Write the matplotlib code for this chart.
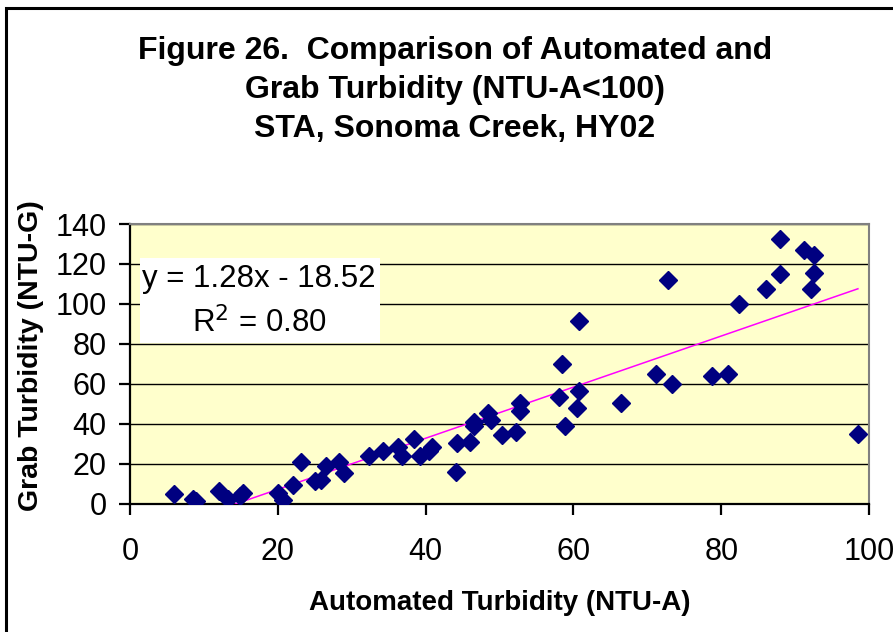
import numpy as np
import matplotlib.pyplot as plt
from matplotlib.patches import Rectangle

# ------------------------------------------------------------------
# Data (NTU-A vs NTU-G)
# ------------------------------------------------------------------
ntu_a = [6.0, 8.5, 8.9, 12.0, 13.2, 14.9, 15.3, 20.0, 20.7, 22.0,
         23.2, 25.0, 25.9, 26.5, 28.3, 28.9, 32.3, 34.3, 36.3, 36.8,
         38.4, 39.2, 40.5, 40.8, 44.1, 44.3, 46.0, 46.5, 46.6, 48.4,
         48.9, 50.4, 52.2, 52.8, 52.8, 58.1, 58.4, 58.9, 60.5, 60.8,
         60.8, 66.5, 71.2, 72.8, 73.3, 78.8, 80.9, 82.4, 86.1, 88.0,
         88.0, 91.2, 92.6, 92.6, 92.1, 98.5]
ntu_g = [5.0, 2.5, 1.3, 6.3, 2.2, 3.7, 5.5, 5.5, 1.7, 9.5,
         20.9, 11.3, 12.0, 18.8, 20.9, 15.5, 23.7, 26.4, 28.4, 23.7,
         32.1, 23.7, 26.4, 28.1, 15.8, 30.1, 30.9, 40.9, 38.7, 45.1,
         41.8, 34.2, 35.9, 50.1, 46.5, 53.4, 69.8, 38.9, 47.6, 56.4,
         91.4, 50.1, 64.8, 111.9, 60.1, 63.8, 65.0, 100.1, 107.4, 132.3,
         114.8, 127.0, 124.5, 115.6, 107.4, 34.7]

# Trendline as printed on the chart
slope = 1.28
intercept = -18.52
r_squared = 0.80

x_ticks = [0, 20, 40, 60, 80, 100]
y_ticks = [0, 20, 40, 60, 80, 100, 120, 140]

W, H = 893, 632
FONT = 'Liberation Sans'

fig = plt.figure(figsize=(W / 100, H / 100), dpi=100)
ax = fig.add_axes([130 / W, 1 - 503.5 / H, 739 / W, 279.5 / H])

ax.set_facecolor('#FFFFCC')
ax.set_xlim(0, 100)
ax.set_ylim(0, 140)
ax.set_xticks(x_ticks)
ax.set_yticks(y_ticks)
ax.grid(axis='y', color='black', linewidth=1.0)
ax.set_axisbelow(True)

# scatter points
ax.plot(ntu_a, ntu_g, linestyle='none', marker='D', markersize=9,
        color='#000080', markeredgecolor='#000080', zorder=4)

# linear trendline
xs = np.array([min(ntu_a), max(ntu_a)])
ax.plot(xs, slope * xs + intercept, color='#FF00FF', linewidth=1.1, zorder=3)

# spines
for side in ('top', 'right'):
    ax.spines[side].set_color('#808080')
    ax.spines[side].set_linewidth(1.5)
for side in ('left', 'bottom'):
    ax.spines[side].set_color('black')
    ax.spines[side].set_linewidth(1.6)

ax.tick_params(axis='both', direction='out', length=8, width=1.6,
               colors='black', labelsize=22)
ax.tick_params(axis='y', pad=9)
ax.tick_params(axis='x', pad=16)
for lbl in ax.get_xticklabels() + ax.get_yticklabels():
    lbl.set_fontfamily(FONT)

# equation box
fig.add_artist(Rectangle((140 / W, 1 - 343 / H), 240 / W, 85 / H,
                         transform=fig.transFigure, facecolor='white',
                         edgecolor='none', zorder=5))
fig.text(259 / W, 1 - 279 / H, f"y = {slope:.2f}x - {abs(intercept):.2f}",
         ha='center', va='center', fontsize=22.5, family=FONT, zorder=6)
fig.text(259 / W, 1 - 323 / H, f"R$^2$ = {r_squared:.2f}",
         ha='center', va='center', fontsize=22.5, family=FONT, zorder=6)

# titles
fig.text(455 / W, 1 - 90 / H,
         "Figure 26.  Comparison of Automated and\n"
         "Grab Turbidity (NTU-A<100)\n"
         "STA, Sonoma Creek, HY02",
         ha='center', va='center', fontsize=23, weight='bold',
         family=FONT, linespacing=1.38)
fig.text(500 / W, 1 - 603 / H, "Automated Turbidity (NTU-A)",
         ha='center', va='center', fontsize=20, weight='bold', family=FONT)
fig.text(31 / W, 1 - 356 / H, "Grab Turbidity (NTU-G)", rotation=90,
         ha='center', va='center', fontsize=20.5, weight='bold', family=FONT)

# outer chart frame (runs off the right and bottom edges)
fig.add_artist(Rectangle((6 / W, -0.1), 1.2, 1.1 - 8 / H,
                         transform=fig.transFigure, facecolor='none',
                         edgecolor='black', linewidth=2.2))

fig.savefig('out.png', dpi=100)
